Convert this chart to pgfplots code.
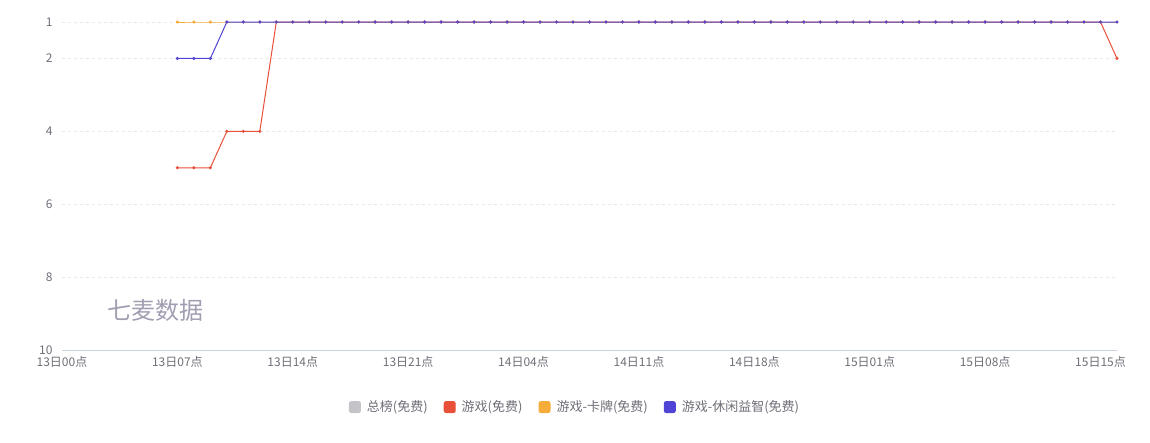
\documentclass[border=0pt]{standalone}
\usepackage{fontspec}
\setmainfont{Noto Sans CJK SC}
\usepackage{pgfplots}
\pgfplotsset{compat=1.18}

\definecolor{zongbang}{HTML}{C4C4C8}
\definecolor{youxi}{HTML}{E8503A}
\definecolor{kapai}{HTML}{F5AC38}
\definecolor{xiuxian}{HTML}{4F44D6}
\definecolor{gridc}{HTML}{E3E8F1}
\definecolor{axisc}{HTML}{C9D1E3}
\definecolor{tickc}{HTML}{6E6E78}
\definecolor{markc}{HTML}{A29EB2}

\begin{document}
\begin{tikzpicture}
\path[use as bounding box] (-62pt,-92pt) rectangle (1088pt,350pt);
\begin{axis}[
  at={(0pt,0pt)}, anchor=south west,
  scale only axis,
  width=1055pt, height=328pt,
  xmin=0, xmax=64,
  ymin=1, ymax=10,
  y dir=reverse,
  axis x line*=bottom,
  axis y line*=left,
  x axis line style={draw=axisc, line width=0.8pt, -},
  y axis line style={draw=none},
  ytick={1,2,4,6,8,10},
  xtick={0,7,...,63},
  xticklabels={13日00点,13日07点,13日14点,13日21点,14日04点,14日11点,14日18点,15日01点,15日08点,15日15点},
  major tick length=0pt,
  ymajorgrids,
  major grid style={draw=gridc, dashed, line width=0.6pt},
  tick label style={font=\fontsize{12}{14}\selectfont, text=tickc},
  yticklabel style={xshift=-6pt},
  xticklabel style={yshift=-3pt},
  /pgf/number format/assume math mode=true,
  clip=false,
  legend columns=4,
  legend style={at={(axis description cs:0.4863,-0.174)}, anchor=center,
    draw=none, fill=none, font=\fontsize{13}{15}\selectfont, text=tickc,
    /tikz/every odd column/.append style={column sep=4pt},
    /tikz/every even column/.append style={column sep=14pt}},
  legend image code/.code={\fill[#1, rounded corners=2pt] (0pt,-5.5pt) rectangle (11pt,5.5pt);},
  every axis plot/.append style={line width=1pt, mark=*, mark size=1pt},
]
\addlegendimage{color=zongbang}
\addlegendentry{总榜(免费)}

\addplot[color=youxi] table {
h r
7 5
8 5
9 5
10 4
11 4
12 4
13 1
14 1
15 1
16 1
17 1
18 1
19 1
20 1
21 1
22 1
23 1
24 1
25 1
26 1
27 1
28 1
29 1
30 1
31 1
32 1
33 1
34 1
35 1
36 1
37 1
38 1
39 1
40 1
41 1
42 1
43 1
44 1
45 1
46 1
47 1
48 1
49 1
50 1
51 1
52 1
53 1
54 1
55 1
56 1
57 1
58 1
59 1
60 1
61 1
62 1
63 1
64 2
};
\addlegendentry{游戏(免费)}

\addplot[color=kapai] table {
h r
7 1
8 1
9 1
10 1
11 1
12 1
13 1
14 1
15 1
16 1
17 1
18 1
19 1
20 1
21 1
22 1
23 1
24 1
25 1
26 1
27 1
28 1
29 1
30 1
31 1
32 1
33 1
34 1
35 1
36 1
37 1
38 1
39 1
40 1
41 1
42 1
43 1
44 1
45 1
46 1
47 1
48 1
49 1
50 1
51 1
52 1
53 1
54 1
55 1
56 1
57 1
58 1
59 1
60 1
61 1
62 1
63 1
64 1
};
\addlegendentry{游戏-卡牌(免费)}

\addplot[color=xiuxian] table {
h r
7 2
8 2
9 2
10 1
11 1
12 1
13 1
14 1
15 1
16 1
17 1
18 1
19 1
20 1
21 1
22 1
23 1
24 1
25 1
26 1
27 1
28 1
29 1
30 1
31 1
32 1
33 1
34 1
35 1
36 1
37 1
38 1
39 1
40 1
41 1
42 1
43 1
44 1
45 1
46 1
47 1
48 1
49 1
50 1
51 1
52 1
53 1
54 1
55 1
56 1
57 1
58 1
59 1
60 1
61 1
62 1
63 1
64 1
};
\addlegendentry{游戏-休闲益智(免费)}

\node[text=markc, font=\fontsize{24}{28}\selectfont] at (axis cs:5.7,8.9) {七麦数据};
\end{axis}
\end{tikzpicture}
\end{document}
